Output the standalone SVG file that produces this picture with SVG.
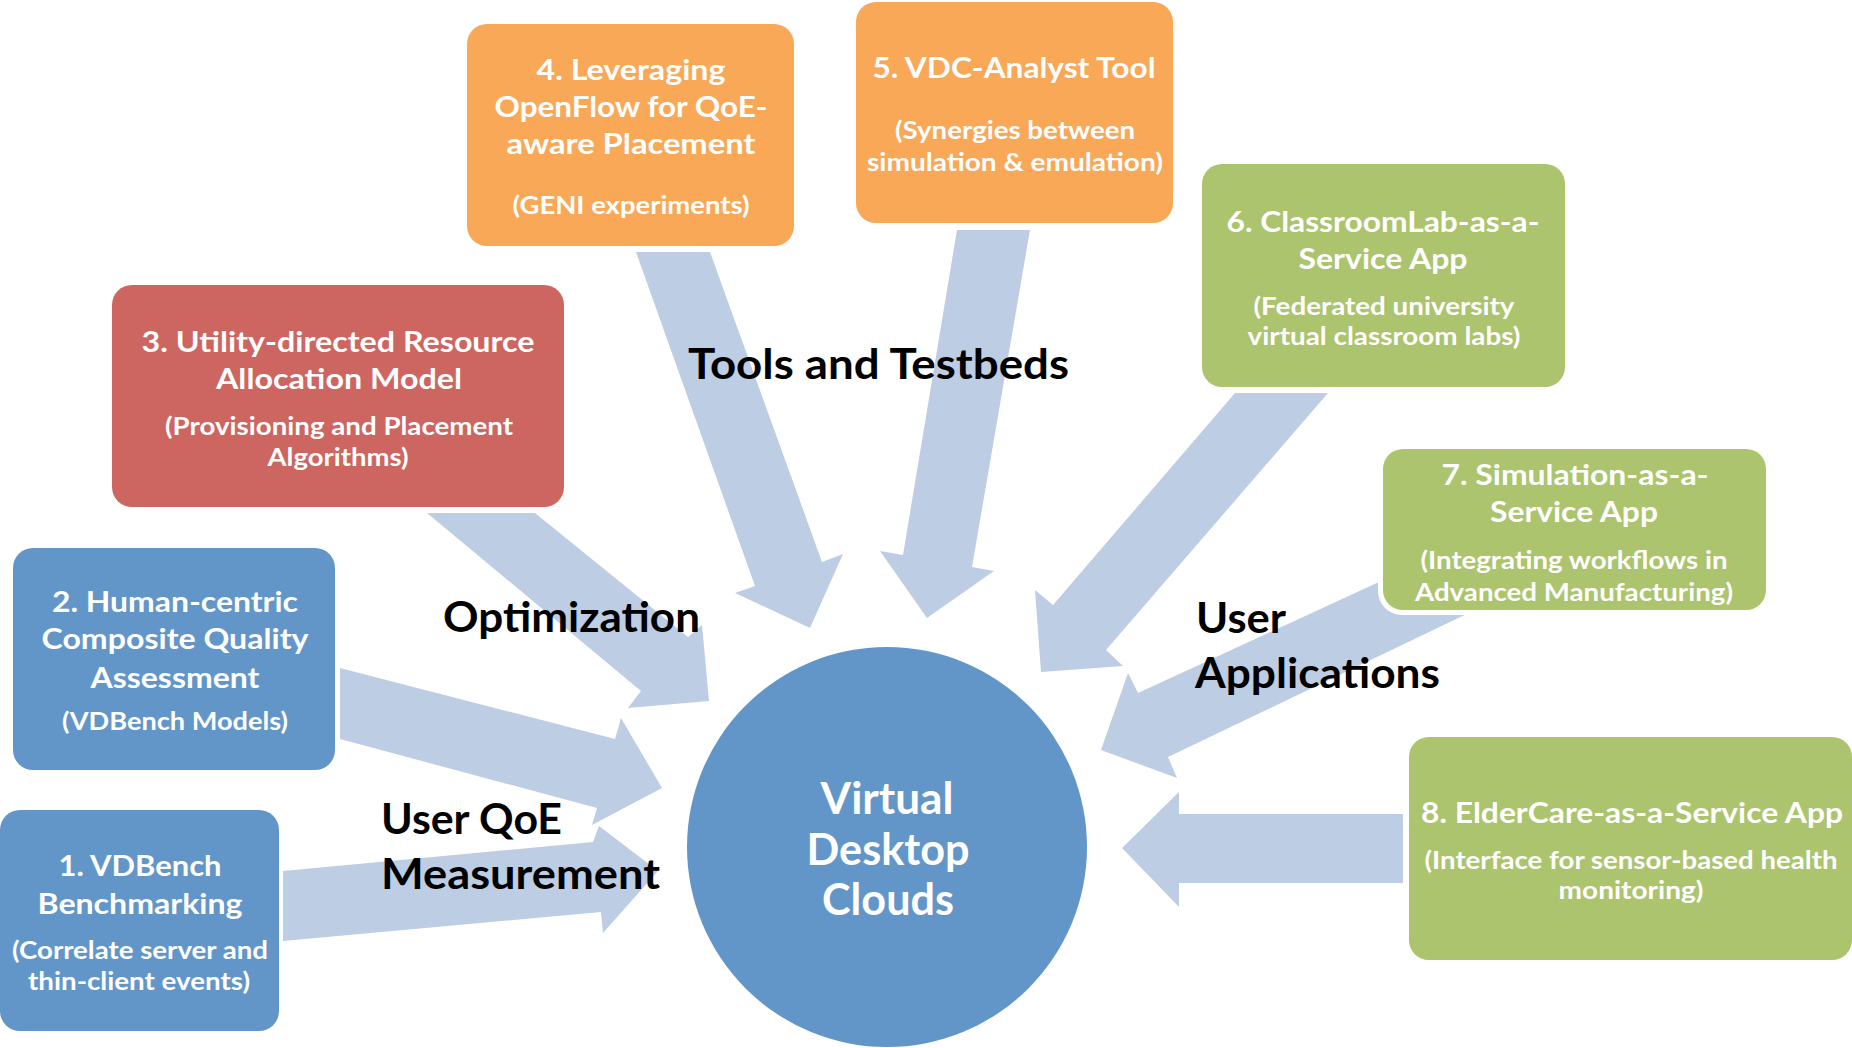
<svg xmlns="http://www.w3.org/2000/svg" width="1852" height="1048" viewBox="0 0 1852 1048">
<style>
.arrow{fill:#BDCDE3;stroke:none}
.box{stroke:none}
.t{font-family:Lato,"Open Sans","Liberation Sans",sans-serif;font-weight:bold;fill:#fff;text-anchor:middle}
.h{font-size:28.5px}
.s{font-size:24px}
.c{font-size:44px}
.lbl{font-family:Lato,"Open Sans","Liberation Sans",sans-serif;font-weight:bold;fill:#000;font-size:42px}
.blue{fill:#6396C8}.red{fill:#CD6660}.orange{fill:#F9A857}.green{fill:#ABC46D}
</style>
<rect width="1852" height="1048" fill="#fff"/>
<g id="connectors">
<polygon class="arrow" points="283,871 593,842 599,826 658,871 603,933 601,912 283,941"/>
<polygon class="arrow" points="340,668 615,739 621,718 662,788 592,825 597,808 340,739"/>
<polygon class="arrow" points="427,513 535,513 688,637 702,625 709,701 628,708 641,691"/>
<polygon class="arrow" points="636,252 710,252 822,562 843,554 810,628 735,593 755,586"/>
<polygon class="arrow" points="957,230 1030,230 972,567 994,571 927,618 880,551 903,555"/>
<polygon class="arrow" points="1235,393 1328,393 1106,650 1123,666 1041,672 1035,590 1053,605"/>
<polygon class="arrow" points="1470,540 1138,693 1128,673 1101,750 1177,778 1168,757 1500,598"/>
<polygon class="arrow" points="1403,814 1179,814 1179,792 1122,848 1179,907 1179,883 1403,883"/>
</g>
<g id="labels">
<text class="lbl" x="688" y="379" textLength="381" lengthAdjust="spacingAndGlyphs">Tools and Testbeds</text>
<text class="lbl" x="443" y="632" textLength="257" lengthAdjust="spacingAndGlyphs">Optimization</text>
<text class="lbl" x="381" y="834" textLength="181" lengthAdjust="spacingAndGlyphs">User QoE</text>
<text class="lbl" x="381" y="889" textLength="279" lengthAdjust="spacingAndGlyphs">Measurement</text>
<text class="lbl" x="1196" y="633" textLength="90" lengthAdjust="spacingAndGlyphs">User</text>
<text class="lbl" x="1195" y="688" textLength="245" lengthAdjust="spacingAndGlyphs">Applications</text>
</g>
<g id="node-center">
<circle class="blue" cx="887" cy="847" r="200"/>
<text class="t c" x="887" y="814" textLength="133" lengthAdjust="spacingAndGlyphs">Virtual</text>
<text class="t c" x="888" y="865" textLength="163" lengthAdjust="spacingAndGlyphs">Desktop</text>
<text class="t c" x="888" y="915" textLength="132" lengthAdjust="spacingAndGlyphs">Clouds</text>
</g>
<g id="node-1">
<rect class="box blue" x="0" y="810" width="279" height="221" rx="20"/>
<text class="t h" x="140" y="876" textLength="163" lengthAdjust="spacingAndGlyphs">1. VDBench</text>
<text class="t h" x="140" y="914" textLength="205" lengthAdjust="spacingAndGlyphs">Benchmarking</text>
<text class="t s" x="140" y="959" textLength="256" lengthAdjust="spacingAndGlyphs">(Correlate server and</text>
<text class="t s" x="139" y="990" textLength="222" lengthAdjust="spacingAndGlyphs">thin-client events)</text>
</g>
<g id="node-2">
<rect class="box blue" x="13" y="548" width="322" height="222" rx="20"/>
<text class="t h" x="175" y="612" textLength="246" lengthAdjust="spacingAndGlyphs">2. Human-centric</text>
<text class="t h" x="175" y="649" textLength="267" lengthAdjust="spacingAndGlyphs">Composite Quality</text>
<text class="t h" x="175" y="688" textLength="169" lengthAdjust="spacingAndGlyphs">Assessment</text>
<text class="t s" x="175" y="730" textLength="226" lengthAdjust="spacingAndGlyphs">(VDBench Models)</text>
</g>
<g id="node-3">
<rect class="box red" x="112" y="285" width="452" height="222" rx="20"/>
<text class="t h" x="338" y="352" textLength="393" lengthAdjust="spacingAndGlyphs">3. Utility-directed Resource</text>
<text class="t h" x="339" y="389" textLength="246" lengthAdjust="spacingAndGlyphs">Allocation Model</text>
<text class="t s" x="339" y="435" textLength="348" lengthAdjust="spacingAndGlyphs">(Provisioning and Placement</text>
<text class="t s" x="338" y="466" textLength="141" lengthAdjust="spacingAndGlyphs">Algorithms)</text>
</g>
<g id="node-4">
<rect class="box orange" x="467" y="24" width="327" height="222" rx="20"/>
<text class="t h" x="631" y="80" textLength="189" lengthAdjust="spacingAndGlyphs">4. Leveraging</text>
<text class="t h" x="631" y="117" textLength="273" lengthAdjust="spacingAndGlyphs">OpenFlow for QoE-</text>
<text class="t h" x="631" y="154" textLength="249" lengthAdjust="spacingAndGlyphs">aware Placement</text>
<text class="t s" x="631" y="214" textLength="237" lengthAdjust="spacingAndGlyphs">(GENI experiments)</text>
</g>
<g id="node-5">
<rect class="box orange" x="856" y="2" width="317" height="221" rx="20"/>
<text class="t h" x="1014" y="78" textLength="283" lengthAdjust="spacingAndGlyphs">5. VDC-Analyst Tool</text>
<text class="t s" x="1015" y="139" textLength="240" lengthAdjust="spacingAndGlyphs">(Synergies between</text>
<text class="t s" x="1015" y="171" textLength="296" lengthAdjust="spacingAndGlyphs">simulation &amp; emulation)</text>
</g>
<g id="node-6">
<rect class="box green" x="1202" y="164" width="363" height="223" rx="20"/>
<text class="t h" x="1383" y="232" textLength="313" lengthAdjust="spacingAndGlyphs">6. ClassroomLab-as-a-</text>
<text class="t h" x="1383" y="269" textLength="169" lengthAdjust="spacingAndGlyphs">Service App</text>
<text class="t s" x="1384" y="315" textLength="261" lengthAdjust="spacingAndGlyphs">(Federated university</text>
<text class="t s" x="1384" y="345" textLength="273" lengthAdjust="spacingAndGlyphs">virtual classroom labs)</text>
</g>
<g id="node-7">
<rect x="1378" y="444" width="393" height="171" rx="24" fill="#fff"/>
<rect class="box green" x="1383" y="449" width="383" height="161" rx="20"/>
<text class="t h" x="1575" y="485" textLength="267" lengthAdjust="spacingAndGlyphs">7. Simulation-as-a-</text>
<text class="t h" x="1574" y="522" textLength="168" lengthAdjust="spacingAndGlyphs">Service App</text>
<text class="t s" x="1574" y="569" textLength="307" lengthAdjust="spacingAndGlyphs">(Integrating workflows in</text>
<text class="t s" x="1574" y="601" textLength="318" lengthAdjust="spacingAndGlyphs">Advanced Manufacturing)</text>
</g>
<g id="node-8">
<rect class="box green" x="1409" y="737" width="443" height="223" rx="20"/>
<text class="t h" x="1632" y="823" textLength="422" lengthAdjust="spacingAndGlyphs">8. ElderCare-as-a-Service App</text>
<text class="t s" x="1631" y="869" textLength="413" lengthAdjust="spacingAndGlyphs">(Interface for sensor-based health</text>
<text class="t s" x="1631" y="899" textLength="145" lengthAdjust="spacingAndGlyphs">monitoring)</text>
</g>
</svg>
